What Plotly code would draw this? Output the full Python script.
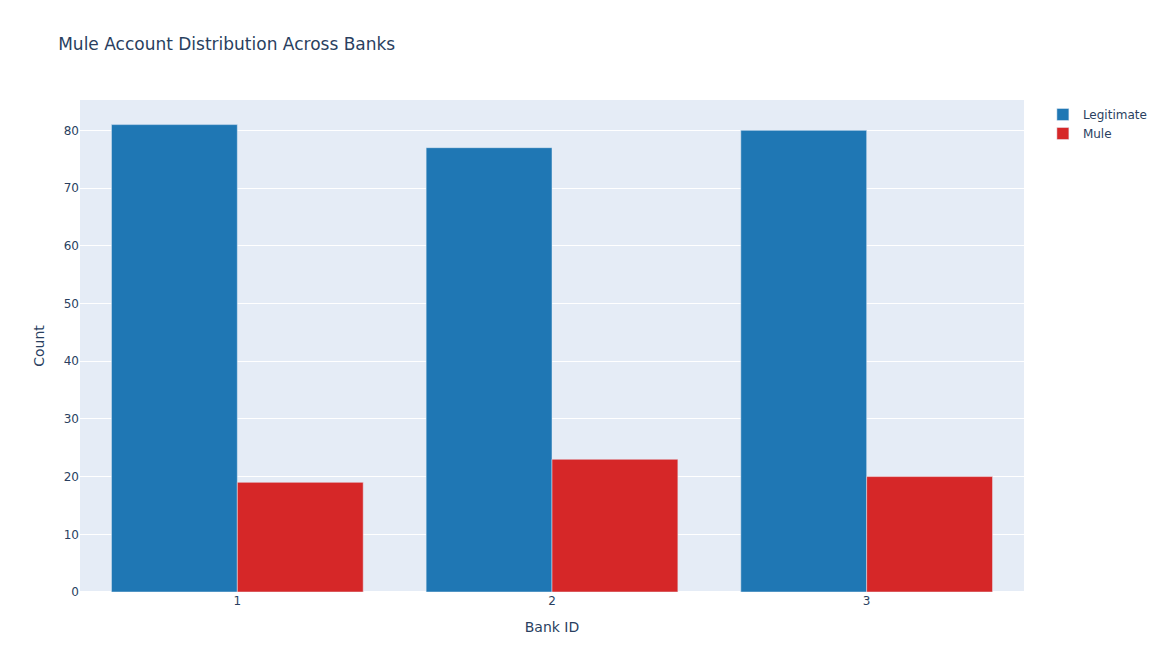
import plotly.graph_objects as go

bank_ids = ["1", "2", "3"]
legit_counts = [81, 77, 80]
mule_counts = [19, 23, 20]

fig = go.Figure()
fig.add_trace(go.Bar(name="Legitimate", x=bank_ids, y=legit_counts, marker_color="#1f77b4"))
fig.add_trace(go.Bar(name="Mule", x=bank_ids, y=mule_counts, marker_color="#d62728"))

fig.update_layout(
    title="Mule Account Distribution Across Banks",
    barmode="group",
    xaxis_title="Bank ID",
    yaxis_title="Count",
    width=1164,
    height=672,
    font=dict(family="DejaVu Sans, Verdana, sans-serif"),
)
fig.write_html(
    "out.html",
    config={"displayModeBar": False},
    post_script="document.body.style.margin='0';",
)
